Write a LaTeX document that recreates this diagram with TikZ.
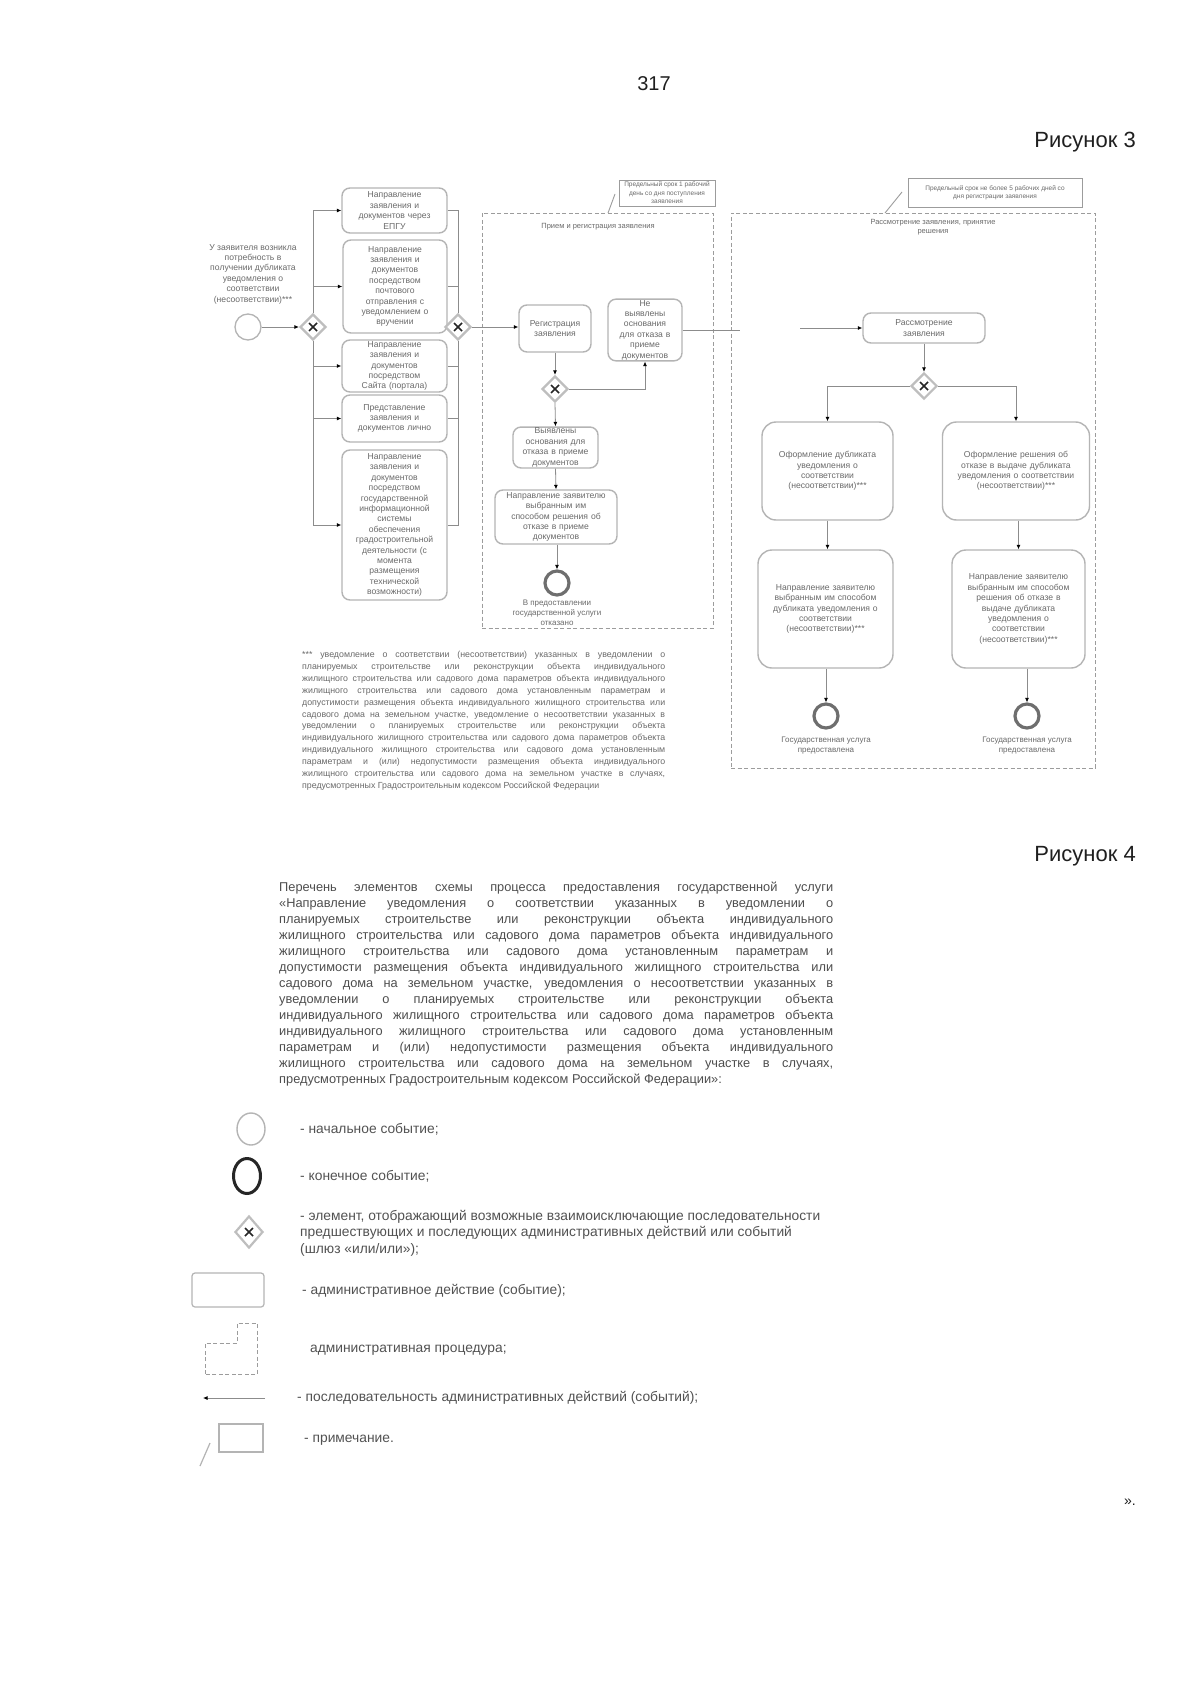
\documentclass[tikz,border=0pt]{standalone}
\usepackage{fontspec}
\setmainfont{Liberation Sans}
\usetikzlibrary{arrows.meta,shapes.geometric,calc}
\definecolor{boxgray}{HTML}{B4B4B4}
\definecolor{txtgray}{HTML}{6A6A6A}
\definecolor{linegray}{HTML}{8C8C8C}
\definecolor{procgray}{HTML}{9C9C9C}
\definecolor{endgray}{HTML}{6E6E6E}
\definecolor{gwgray}{HTML}{BEBEBE}
\definecolor{paragray}{HTML}{4E4E4E}
\newcommand{\dgfont}{\fontsize{8.6}{10.4}\selectfont}
\newcommand{\ntfont}{\fontsize{6.5}{8.4}\selectfont}
\newcommand{\prtfont}{\fontsize{7.5}{9.5}\selectfont}
\newcommand{\lbfont}{\fontsize{8}{10}\selectfont}
\begin{document}
\begin{tikzpicture}[x=1pt,y=-1pt,
  act/.style={draw=boxgray, line width=1.4pt, rounded corners=8pt, align=center, font=\dgfont, text=txtgray, inner sep=1pt},
  gw/.style={diamond, draw=gwgray, fill=white, line width=2.2pt, minimum width=26pt, minimum height=26pt, inner sep=0pt,
    path picture={\draw[black!85, line width=1.7pt]
      ([shift={(-4pt,-4pt)}]path picture bounding box.center) -- ([shift={(4pt,4pt)}]path picture bounding box.center)
      ([shift={(-4pt,4pt)}]path picture bounding box.center) -- ([shift={(4pt,-4pt)}]path picture bounding box.center);}},
  startev/.style={circle, draw=boxgray, line width=1.3pt, minimum size=26pt, inner sep=0pt},
  endev/.style={circle, draw=endgray, line width=3.2pt, minimum size=24pt, inner sep=0pt},
  flow/.style={draw=linegray, line width=0.8pt, -{Latex[length=4.5pt,width=4pt,color=black]}},
  plain/.style={draw=linegray, line width=0.8pt},
  procbox/.style={draw=procgray, dashed, dash pattern=on 4pt off 2.5pt, line width=0.9pt, inner sep=0pt},
  notebox/.style={draw=procgray, line width=0.9pt, align=center, font=\ntfont, text=txtgray, inner sep=1pt},
  dtext/.style={align=center, font=\dgfont, text=txtgray, inner sep=0pt},
  lbtext/.style={align=center, font=\lbfont, text=txtgray, inner sep=0pt},
  hdr/.style={font=\fontsize{20}{24}\selectfont, text=black!88, inner sep=0pt},
  legtext/.style={anchor=west, font=\fontsize{13.8}{16.6}\selectfont, text=black!68, inner sep=0pt, align=left}
]
\useasboundingbox (0,0) rectangle (1200,1696);
\fill[white] (0,0) rectangle (1200,1696);

% header
\node[hdr] (pnum) at (654,84) {317};
\node[hdr, font=\fontsize{22}{26}\selectfont, anchor=east] (fig3) at (1136,142) {Рисунок 3};

% procedures
\node[procbox, minimum width=231pt, minimum height=415pt] (proc1) at (597.5,420.5) {};
\node[procbox, minimum width=364pt, minimum height=555pt] (proc2) at (913,490.5) {};
\node[align=center, font=\prtfont, text=txtgray, inner sep=0pt] (t1) at (598,227) {Прием и регистрация заявления};
\node[align=center, font=\prtfont, text=txtgray, inner sep=0pt] (t2) at (933,227) {Рассмотрение заявления, принятие\\решения};

% notes
\node[notebox, minimum width=96pt, minimum height=26pt] (n1) at (667,193) {Предельный срок 1 рабочий\\день со дня поступления\\заявления};
\draw[procgray, line width=0.9pt] (608,213) -- (615,194);
\node[notebox, minimum width=174pt, minimum height=29pt] (n2) at (995,192.5) {Предельный срок не более 5 рабочих дней со\\дня регистрации заявления};
\draw[procgray, line width=0.9pt] (885,213) -- (902,192);

% left part
\node[dtext] (lt) at (253,274) {У заявителя возникла\\потребность в\\получении дубликата\\уведомления о\\соответствии\\(несоответствии)***};
\node[startev] (st) at (248,327) {};
\node[gw] (g1) at (313,327) {};
\node[act, minimum width=105pt, minimum height=45pt, text width=101pt] (b1) at (394.5,210.5) {Направление\\заявления и\\документов через\\ЕПГУ};
\node[act, minimum width=104pt, minimum height=93pt, text width=100pt] (b2) at (395,286.5) {Направление\\заявления и\\документов\\посредством\\почтового\\отправления с\\уведомлением о\\вручении};
\node[act, minimum width=105pt, minimum height=52pt, text width=101pt] (b3) at (394.5,366) {Направление\\заявления и\\документов\\посредством\\Сайта (портала)};
\node[act, minimum width=105pt, minimum height=47pt, text width=101pt] (b4) at (394.5,418.5) {Представление\\заявления и\\документов лично};
\node[act, minimum width=105pt, minimum height=150pt, text width=101pt] (b5) at (394.5,525) {Направление\\заявления и\\документов\\посредством\\государственной\\информационной\\системы\\обеспечения\\градостроительной\\деятельности (с\\момента\\размещения\\технической\\возможности)};
\node[gw] (g2) at (458,327) {};

\draw[flow] (st) -- (g1);
\draw[flow] (g1.north) |- (b1.west);
\draw[flow] (g1.north) |- (b2.west);
\draw[flow] (g1.south) |- (b3.west);
\draw[flow] (g1.south) |- (b4.west);
\draw[flow] (g1.south) |- (b5.west);
\draw[plain] (b1.east) -| (g2.north);
\draw[plain] (b2.east) -| (g2.north);
\draw[plain] (b3.east) -| (g2.south);
\draw[plain] (b4.east) -| (g2.south);
\draw[plain] (b5.east) -| (g2.south);

% reception procedure
\node[act, minimum width=72pt, minimum height=47pt, text width=68pt] (reg) at (555,328.5) {Регистрация\\заявления};
\node[act, minimum width=74pt, minimum height=60pt, text width=70pt] (nv) at (645,330) {Не\\выявлены\\основания\\для отказа в\\приеме\\документов};
\node[gw] (g3) at (555,389) {};
\node[act, minimum width=85pt, minimum height=39pt, text width=81pt] (vy) at (555.5,447.5) {Выявлены\\основания для\\отказа в приеме\\документов};
\node[act, minimum width=122pt, minimum height=54pt, text width=118pt] (np) at (556,517) {Направление заявителю\\выбранным им\\способом решения об\\отказе в приеме\\документов};
\node[endev] (e1) at (557,583) {};
\node[lbtext] (e1l) at (557,613) {В предоставлении\\государственной услуги\\отказано};

\draw[flow] (g2.east) -- (reg.west |- g2.east);
\draw[flow] (reg.south) -- (g3.north);
\draw[flow] (g3.east) -| (nv.south);
\draw[flow] (g3.south) -- (vy.north);
\draw[flow] (vy.south) -- (np.north);
\draw[flow] (np.south -| e1.north) -- (e1.north);

% consideration procedure
\coordinate (ga) at (740,330);
\coordinate (gb) at (800,328);
\node[act, minimum width=122pt, minimum height=30pt, text width=118pt] (rs) at (924,328) {Рассмотрение\\заявления};
\draw[plain] (nv.east) -- (ga);
\draw[flow] (gb) -- (rs.west);
\node[gw] (g4) at (924,386) {};
\node[act, minimum width=131pt, minimum height=98pt, text width=127pt, rounded corners=14pt] (l1) at (827.5,471) {Оформление дубликата\\уведомления о\\соответствии\\(несоответствии)***};
\node[act, minimum width=147pt, minimum height=98pt, text width=143pt, rounded corners=14pt] (r1) at (1016,471) {Оформление решения об\\отказе в выдаче дубликата\\уведомления о соответствии\\(несоответствии)***};
\node[act, minimum width=135pt, minimum height=118pt, text width=131pt, rounded corners=14pt] (l2) at (825.5,609) {Направление заявителю\\выбранным им способом\\дубликата уведомления о\\соответствии\\(несоответствии)***};
\node[act, minimum width=133pt, minimum height=118pt, text width=129pt, rounded corners=14pt] (r2) at (1018.5,609) {Направление заявителю\\выбранным им способом\\решения об отказе в\\выдаче дубликата\\уведомления о\\соответствии\\(несоответствии)***};
\node[endev] (e2) at (826,716) {};
\node[endev] (e3) at (1027,716) {};
\node[lbtext] (e2l) at (826,746) {Государственная услуга\\предоставлена};
\node[lbtext] (e3l) at (1027,746) {Государственная услуга\\предоставлена};

\draw[flow] (rs.south) -- (g4.north);
\draw[flow] (g4.west) -| (l1.north);
\draw[flow] (g4.east) -| (r1.north);
\draw[flow] (l1.south) -- (l1.south |- l2.north);
\draw[flow] (r2.north |- r1.south) -- (r2.north);
\draw[flow] (e2.north |- l2.south) -- (e2.north);
\draw[flow] (e3.north |- r2.south) -- (e3.north);

% footnote
\node[anchor=north west, text width=363pt, align=justify, inner sep=0pt, font=\fontsize{8.8}{11.9}\selectfont, text=txtgray] (fn) at (302,651) {\hyphenpenalty=10000\exhyphenpenalty=10000\tolerance=10000
*** уведомление о соответствии (несоответствии) указанных в уведомлении о\linebreak
планируемых строительстве или реконструкции объекта индивидуального\linebreak
жилищного строительства или садового дома параметров объекта индивидуального\linebreak
жилищного строительства или садового дома установленным параметрам и\linebreak
допустимости размещения объекта индивидуального жилищного строительства или\linebreak
садового дома на земельном участке, уведомление о несоответствии указанных в\linebreak
уведомлении о планируемых строительстве или реконструкции объекта\linebreak
индивидуального жилищного строительства или садового дома параметров объекта\linebreak
индивидуального жилищного строительства или садового дома установленным\linebreak
параметрам и (или) недопустимости размещения объекта индивидуального\linebreak
жилищного строительства или садового дома на земельном участке в случаях,\linebreak
предусмотренных Градостроительным кодексом Российской Федерации};

% figure 4
\node[hdr, font=\fontsize{22}{26}\selectfont, anchor=east] (fig4) at (1136,856) {Рисунок 4};
\node[anchor=north west, text width=554pt, align=justify, inner sep=0pt, font=\fontsize{12.8}{16}\selectfont, text=paragray] (par) at (279,882) {\hyphenpenalty=10000\exhyphenpenalty=10000\tolerance=10000
Перечень элементов схемы процесса предоставления государственной услуги\linebreak
«Направление уведомления о соответствии указанных в уведомлении о\linebreak
планируемых строительстве или реконструкции объекта индивидуального\linebreak
жилищного строительства или садового дома параметров объекта индивидуального\linebreak
жилищного строительства или садового дома установленным параметрам и\linebreak
допустимости размещения объекта индивидуального жилищного строительства или\linebreak
садового дома на земельном участке, уведомления о несоответствии указанных в\linebreak
уведомлении о планируемых строительстве или реконструкции объекта\linebreak
индивидуального жилищного строительства или садового дома параметров объекта\linebreak
индивидуального жилищного строительства или садового дома установленным\linebreak
параметрам и (или) недопустимости размещения объекта индивидуального\linebreak
жилищного строительства или садового дома на земельном участке в случаях,\linebreak
предусмотренных Градостроительным кодексом Российской Федерации»:};

% legend
\node[ellipse, draw=boxgray, line width=1.4pt, minimum width=28pt, minimum height=32pt, inner sep=0pt] (lg1) at (251,1129) {};
\node[legtext] (lg1t) at (300,1129) {- начальное событие;};
\node[ellipse, draw=black!85, line width=3pt, minimum width=27pt, minimum height=35pt, inner sep=0pt] (lg2) at (247,1176) {};
\node[legtext] (lg2t) at (300,1176) {- конечное событие;};
\node[gw, minimum width=28pt, minimum height=32pt] (lg3) at (249,1232) {};
\node[legtext] (lg3t) at (300,1233) {- элемент, отображающий возможные взаимоисключающие последовательности\\предшествующих и последующих административных действий или событий\\(шлюз «или/или»);};
\node[draw=boxgray, line width=1.2pt, rounded corners=3pt, minimum width=72pt, minimum height=34pt] (lg4) at (228,1290) {};
\node[legtext] (lg4t) at (302,1291) {- административное действие (событие);};
\draw[procbox] (205,1374) -- (205,1343) -- (237,1343) -- (237,1323) -- (257,1323) -- (257,1374) -- cycle;
\node[legtext] (lg5t) at (310,1350) {административная процедура;};
\coordinate (la1) at (265,1398);
\coordinate (la2) at (203,1398);
\draw[flow] (la1) -- (la2);
\node[legtext] (lg6t) at (297,1398) {- последовательность административных действий (событий);};
\node[draw=boxgray, line width=1.2pt, minimum width=44pt, minimum height=28pt] (lg7) at (241,1438) {};
\draw[boxgray, line width=1.2pt] (200,1466) -- (210,1443);
\node[legtext] (lg7t) at (304,1440) {- примечание.};

\node[hdr, font=\fontsize{14}{16}\selectfont] (qend) at (1130,1502) {».};
\end{tikzpicture}
\end{document}
